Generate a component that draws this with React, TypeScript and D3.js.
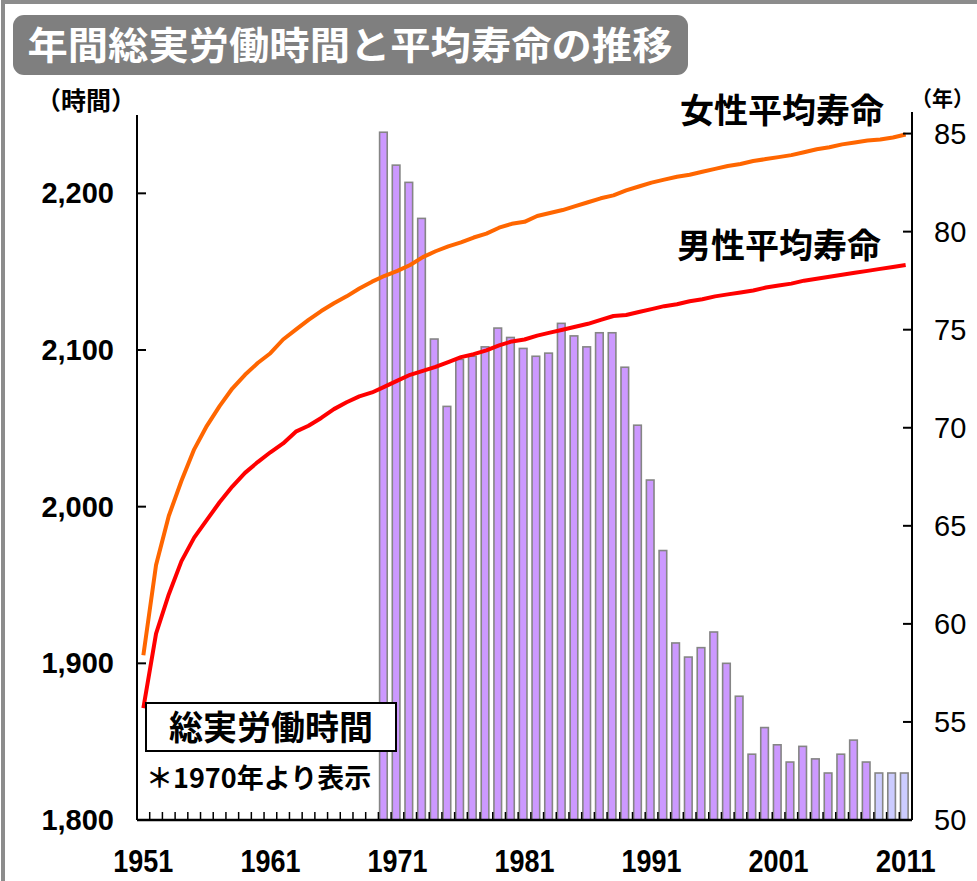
import * as d3 from 'd3';

const years = d3.range(1951, 2012);

// 年間総実労働時間 (1970〜2011)
const hourYears = d3.range(1970, 2012);
const hours = [
  2239, 2218, 2207, 2184, 2107, 2064, 2094, 2096, 2102, 2114,
  2108, 2101, 2096, 2098, 2117, 2109, 2102, 2111, 2111, 2089,
  2052, 2017, 1972, 1913, 1904, 1910, 1920, 1900, 1879, 1842,
  1859, 1848, 1837, 1847, 1839, 1830, 1842, 1851, 1837, 1830,
  1830, 1830,
];
const highlightFrom = 2009;

// 女性平均寿命 (1951〜2011)
const female = [
  58.4, 63.0, 65.5, 67.3, 68.9, 70.1, 71.1, 72.0, 72.7, 73.3,
  73.8, 74.5, 75.0, 75.5, 75.95, 76.35, 76.7, 77.1, 77.45, 77.75,
  78.0, 78.3, 78.7, 79.0, 79.25, 79.45, 79.7, 79.9, 80.2, 80.4,
  80.5, 80.8, 80.95, 81.1, 81.3, 81.5, 81.7, 81.85, 82.1, 82.3,
  82.5, 82.65, 82.8, 82.9, 83.05, 83.2, 83.35, 83.45, 83.6, 83.7,
  83.8, 83.9, 84.05, 84.2, 84.3, 84.45, 84.55, 84.65, 84.7, 84.8,
  84.95,
];

// 男性平均寿命 (1951〜2011)
const male = [
  55.7, 59.5, 61.5, 63.2, 64.4, 65.3, 66.2, 67.0, 67.7, 68.25,
  68.75, 69.2, 69.8, 70.1, 70.5, 70.95, 71.3, 71.6, 71.8, 72.1,
  72.4, 72.7, 72.9, 73.1, 73.35, 73.6, 73.75, 73.95, 74.2, 74.4,
  74.5, 74.7, 74.85, 75.0, 75.15, 75.3, 75.5, 75.7, 75.75, 75.9,
  76.05, 76.2, 76.3, 76.45, 76.55, 76.7, 76.8, 76.9, 77.0, 77.15,
  77.25, 77.35, 77.5, 77.6, 77.7, 77.8, 77.9, 78.0, 78.1, 78.2,
  78.3,
];

const leftTicks = [1800, 1900, 2000, 2100, 2200];
const rightTicks = [50, 55, 60, 65, 70, 75, 80, 85];
const yearLabels = [1951, 1961, 1971, 1981, 1991, 2001, 2011];

const title = '年間総実労働時間と平均寿命の推移';
const jp = '"Noto Sans CJK JP", "Noto Sans", sans-serif';
const num = '"Liberation Sans", Arial, sans-serif';

export default function App() {
  const width = 977;
  const height = 881;
  const left = 137;
  const right = 912;
  const bottom = 820;

  const x = d3.scaleBand<number>().domain(years).range([left, right]).padding(0);
  const yL = d3.scaleLinear().domain([1800, 2250]).range([bottom, 115]);
  const yR = d3.scaleLinear().domain([50, 86.1]).range([bottom, 112]);
  const bw = x.bandwidth();
  const cx = (yr: number) => (x(yr) ?? 0) + bw / 2;

  const lineF = d3
    .line<number>()
    .x((_, i) => cx(years[i]))
    .y((d) => yR(d));

  return (
    <div style={{ position: 'absolute', left: 0, top: 0 }}>
      <svg width={width} height={height} style={{ display: 'block', background: '#fff' }}>
        <rect x={3} y={2} width={1000} height={1000} fill="none" stroke="#8c8c8c" strokeWidth={4} />

        {/* title */}
        <rect x={13} y={15} width={675} height={60} rx={11} fill="#7f7f7f" />
        <text x={350} y={59} textAnchor="middle" fill="#fff" fontFamily={jp} fontWeight={700}
          fontSize={38} textLength={645} lengthAdjust="spacingAndGlyphs">{title}</text>

        {/* units */}
        <text x={36} y={110} fontFamily={jp} fontWeight={700} fontSize={25}>（時間）</text>
        <text x={911} y={106} fontFamily={jp} fontWeight={700} fontSize={21}>（年）</text>

        {/* bars */}
        {hourYears.map((yr, i) => (
          <rect key={yr} x={(x(yr) ?? 0) + 1.2} y={yL(hours[i])} width={bw * 0.6}
            height={yL(1800) - yL(hours[i])}
            fill={yr >= highlightFrom ? '#ccccff' : '#cc99ff'} stroke="#858585" strokeWidth={1.6} />
        ))}

        {/* lines */}
        <path d={lineF(female) ?? ''} fill="none" stroke="#ff6600" strokeWidth={4} strokeLinejoin="round" />
        <path d={lineF(male) ?? ''} fill="none" stroke="#ff0000" strokeWidth={4} strokeLinejoin="round" />

        {/* left axis */}
        <line x1={left} x2={left} y1={yL(2250)} y2={bottom} stroke="#000" strokeWidth={2} />
        {leftTicks.map((t) => (
          <g key={t}>
            <line x1={left} x2={left + 9} y1={yL(t)} y2={yL(t)} stroke="#000" strokeWidth={2} />
            <text x={114} y={yL(t) + 10} textAnchor="end" fontFamily={num} fontWeight={700} fontSize={29}>
              {d3.format(',')(t)}
            </text>
          </g>
        ))}

        {/* right axis */}
        <line x1={right} x2={right} y1={yR(86.1)} y2={bottom} stroke="#000" strokeWidth={2} />
        {rightTicks.map((t) => (
          <g key={t}>
            <line x1={right - 9} x2={right} y1={yR(t)} y2={yR(t)} stroke="#000" strokeWidth={2} />
            <text x={934} y={yR(t) + 10} fontFamily={num} fontSize={29}>{t}</text>
          </g>
        ))}

        {/* bottom axis */}
        <line x1={left} x2={right} y1={bottom} y2={bottom} stroke="#000" strokeWidth={2.5} />
        {years.concat([2012]).map((yr) => {
          const xx = yr === 2012 ? right : x(yr) ?? 0;
          return <line key={yr} x1={xx} x2={xx} y1={bottom} y2={bottom - 8} stroke="#000" strokeWidth={1.5} />;
        })}
        {yearLabels.map((yr) => (
          <text key={yr} x={cx(yr)} y={872} textAnchor="middle" fontFamily={num} fontWeight={700} fontSize={32}
            textLength={60} lengthAdjust="spacingAndGlyphs">
            {yr}
          </text>
        ))}

        {/* series labels */}
        <text x={680} y={123} fontFamily={jp} fontWeight={700} fontSize={34}>女性平均寿命</text>
        <text x={677} y={258} fontFamily={jp} fontWeight={700} fontSize={34}>男性平均寿命</text>

        {/* legend */}
        <rect x={146} y={703} width={250} height={48} fill="#fff" stroke="#000" strokeWidth={2} />
        <text x={271} y={740} textAnchor="middle" fontFamily={jp} fontWeight={700} fontSize={34}>総実労働時間</text>
        <text x={146} y={788} fontFamily={jp} fontWeight={700} fontSize={27}>＊1970年より表示</text>
      </svg>
    </div>
  );
}
